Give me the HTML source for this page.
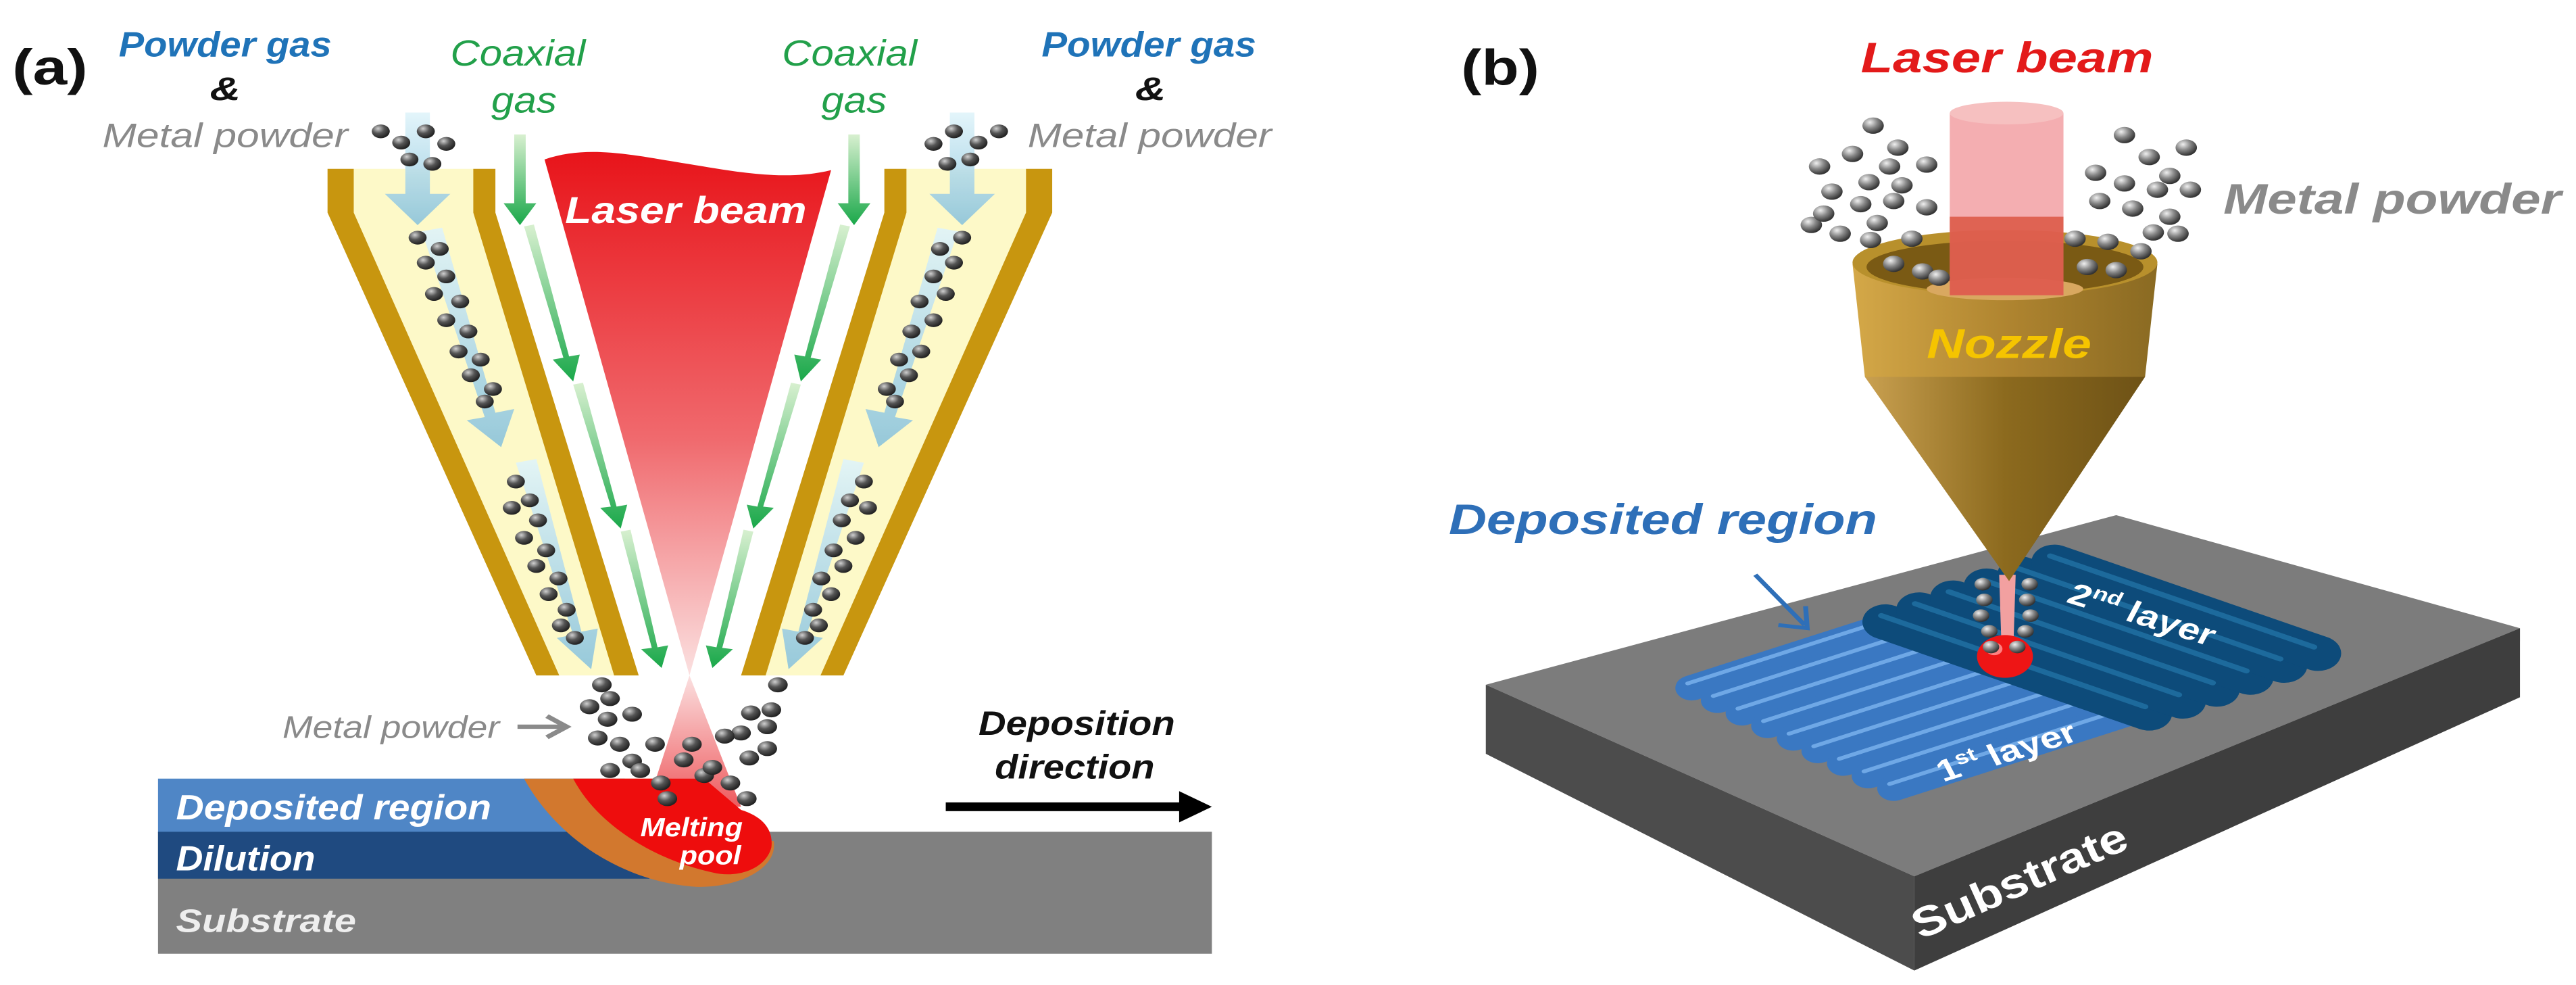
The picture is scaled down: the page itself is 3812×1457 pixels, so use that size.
<!DOCTYPE html>
<html><head><meta charset="utf-8"><style>
html,body{margin:0;padding:0;background:#fff;width:3812px;height:1457px;overflow:hidden}
svg{position:absolute;top:0}
text{font-family:"Liberation Sans",sans-serif;font-weight:bold;font-style:italic}
</style></head><body>
<svg style="left:0" width="1900" height="1457" viewBox="0 0 1568 1575" preserveAspectRatio="none">
<defs>
<radialGradient id="ball" cx="0.35" cy="0.3" r="0.7"><stop offset="0" stop-color="#d0d0d0"/><stop offset="0.5" stop-color="#555"/><stop offset="1" stop-color="#222"/></radialGradient>
<linearGradient id="beam" x1="0" y1="0" x2="0" y2="1"><stop offset="0" stop-color="#e8141a"/><stop offset="0.55" stop-color="#f06a6e"/><stop offset="1" stop-color="#fbe0e0"/></linearGradient>
<linearGradient id="beam2" x1="0" y1="0" x2="0" y2="1"><stop offset="0" stop-color="#fbe0e0"/><stop offset="1" stop-color="#ee5a5e"/></linearGradient>
<linearGradient id="grn" x1="0" y1="0" x2="0" y2="1"><stop offset="0" stop-color="#d8f0d0"/><stop offset="1" stop-color="#1aa84a"/></linearGradient>
<linearGradient id="blu" x1="0" y1="0" x2="0" y2="1"><stop offset="0" stop-color="#e0f4fa"/><stop offset="1" stop-color="#8cc4dc"/></linearGradient>
</defs>
<polygon points="432,270 578,270 578,340 760,1080 683,1080 432,340" fill="#fdf9c8"/>
<polygon points="400,270 432,270 432,340 683,1080 655,1080 400,340" fill="#c8960f"/>
<polygon points="578,270 605,270 605,340 780,1080 750,1080 578,340" fill="#c8960f"/>
<polygon points="1253,270 1107,270 1107,340 925,1080 1002,1080 1253,340" fill="#fdf9c8"/>
<polygon points="1285,270 1253,270 1253,340 1002,1080 1030,1080 1285,340" fill="#c8960f"/>
<polygon points="1107,270 1080,270 1080,340 905,1080 935,1080 1107,340" fill="#c8960f"/>
<g fill="url(#blu)" opacity="0.9">
<polygon points="495,180 525,180 525,310 550,310 510,360 470,310 495,310"/>
<polygon points="515,370 540,364 605,660 628,654 612,715 570,672 592,667"/>
<polygon points="630,740 655,734 710,1010 730,1005 722,1070 680,1020 700,1015"/>
<polygon points="1190,180 1160,180 1160,310 1135,310 1175,360 1215,310 1190,310"/>
<polygon points="1170,370 1145,364 1080,660 1057,654 1073,715 1115,672 1093,667"/>
<polygon points="1055,740 1030,734 975,1010 955,1005 963,1070 1005,1020 985,1015"/>
</g>
<path d="M665,255 C720,230 780,250 840,262 C900,275 960,290 1015,272 L842,1080 Z" fill="url(#beam)"/>
<path d="M842,1080 L905,1290 L790,1290 Z" fill="url(#beam2)"/>
<text x="690" y="357" font-size="60" fill="#fff" textLength="295" lengthAdjust="spacingAndGlyphs">Laser beam</text>
<g fill="url(#grn)">
<polygon points="628,215 642,215 642,325 655,325 635,360 615,325 628,325"/>
<polygon points="640,362 652,359 695,570 708,567 700,610 675,575 688,572"/>
<polygon points="700,615 712,612 753,810 766,807 758,845 733,812 746,810"/>
<polygon points="758,850 770,847 803,1035 816,1032 808,1068 783,1038 796,1036"/>
<polygon points="1050,215 1036,215 1036,325 1023,325 1043,360 1063,325 1050,325"/>
<polygon points="1038,362 1026,359 983,570 970,567 978,610 1003,575 990,572"/>
<polygon points="978,615 966,612 925,810 912,807 920,845 945,812 932,810"/>
<polygon points="920,850 908,847 875,1035 862,1032 870,1068 895,1038 882,1036"/>
</g>
<rect x="193" y="1330" width="1287" height="195" fill="#808080"/>
<rect x="193" y="1245" width="570" height="87" fill="#4f86c6"/>
<rect x="193" y="1330" width="600" height="75" fill="#1f4a80"/>
<path d="M640,1245 L820,1245 C860,1300 900,1340 945,1345 C950,1390 900,1420 850,1418 C760,1410 680,1340 640,1245 Z" fill="#d2782e"/>
<path d="M700,1245 L860,1245 L905,1295 C930,1305 945,1325 942,1355 C935,1390 900,1405 870,1395 C800,1375 730,1320 700,1245 Z" fill="#ee0d0d"/>
<text x="215" y="1310" font-size="56" fill="#fff" textLength="385" lengthAdjust="spacingAndGlyphs">Deposited region</text>
<text x="215" y="1392" font-size="56" fill="#fff" textLength="170" lengthAdjust="spacingAndGlyphs">Dilution</text>
<text x="215" y="1490" font-size="52" fill="#eee" textLength="220" lengthAdjust="spacingAndGlyphs">Substrate</text>
<text x="782" y="1337" font-size="42" fill="#fff" textLength="125" lengthAdjust="spacingAndGlyphs">Melting</text>
<text x="830" y="1382" font-size="42" fill="#fff" textLength="75" lengthAdjust="spacingAndGlyphs">pool</text>
<g fill="url(#ball)">
<circle cx="465" cy="210" r="11"/><circle cx="490" cy="228" r="11"/><circle cx="520" cy="210" r="11"/><circle cx="545" cy="230" r="11"/><circle cx="500" cy="255" r="11"/><circle cx="528" cy="262" r="11"/>
<circle cx="510" cy="380" r="11"/><circle cx="537" cy="398" r="11"/><circle cx="520" cy="420" r="11"/><circle cx="545" cy="442" r="11"/><circle cx="530" cy="470" r="11"/><circle cx="562" cy="482" r="11"/><circle cx="545" cy="512" r="11"/><circle cx="572" cy="530" r="11"/><circle cx="560" cy="562" r="11"/><circle cx="587" cy="575" r="11"/><circle cx="575" cy="600" r="11"/><circle cx="602" cy="622" r="11"/><circle cx="592" cy="642" r="11"/>
<circle cx="630" cy="770" r="11"/><circle cx="647" cy="800" r="11"/><circle cx="625" cy="812" r="11"/><circle cx="657" cy="832" r="11"/><circle cx="640" cy="860" r="11"/><circle cx="667" cy="880" r="11"/><circle cx="655" cy="905" r="11"/><circle cx="682" cy="925" r="11"/><circle cx="670" cy="950" r="11"/><circle cx="692" cy="975" r="11"/><circle cx="685" cy="1000" r="11"/><circle cx="702" cy="1020" r="11"/>
<circle cx="1220" cy="210" r="11"/><circle cx="1195" cy="228" r="11"/><circle cx="1165" cy="210" r="11"/><circle cx="1140" cy="230" r="11"/><circle cx="1185" cy="255" r="11"/><circle cx="1157" cy="262" r="11"/>
<circle cx="1175" cy="380" r="11"/><circle cx="1148" cy="398" r="11"/><circle cx="1165" cy="420" r="11"/><circle cx="1140" cy="442" r="11"/><circle cx="1155" cy="470" r="11"/><circle cx="1123" cy="482" r="11"/><circle cx="1140" cy="512" r="11"/><circle cx="1113" cy="530" r="11"/><circle cx="1125" cy="562" r="11"/><circle cx="1098" cy="575" r="11"/><circle cx="1110" cy="600" r="11"/><circle cx="1083" cy="622" r="11"/><circle cx="1093" cy="642" r="11"/>
<circle cx="1055" cy="770" r="11"/><circle cx="1038" cy="800" r="11"/><circle cx="1060" cy="812" r="11"/><circle cx="1028" cy="832" r="11"/><circle cx="1045" cy="860" r="11"/><circle cx="1018" cy="880" r="11"/><circle cx="1030" cy="905" r="11"/><circle cx="1003" cy="925" r="11"/><circle cx="1015" cy="950" r="11"/><circle cx="993" cy="975" r="11"/><circle cx="1000" cy="1000" r="11"/><circle cx="983" cy="1020" r="11"/>
<circle cx="735" cy="1095" r="12"/><circle cx="745" cy="1117" r="12"/><circle cx="720" cy="1130" r="12"/><circle cx="742" cy="1150" r="12"/><circle cx="772" cy="1142" r="12"/><circle cx="730" cy="1180" r="12"/><circle cx="757" cy="1190" r="12"/><circle cx="772" cy="1217" r="12"/><circle cx="800" cy="1190" r="12"/><circle cx="782" cy="1232" r="12"/><circle cx="745" cy="1232" r="12"/><circle cx="807" cy="1252" r="12"/><circle cx="835" cy="1215" r="12"/><circle cx="860" cy="1240" r="12"/><circle cx="815" cy="1277" r="12"/>
<circle cx="950" cy="1095" r="12"/><circle cx="942" cy="1135" r="12"/><circle cx="917" cy="1140" r="12"/><circle cx="937" cy="1162" r="12"/><circle cx="905" cy="1172" r="12"/><circle cx="937" cy="1197" r="12"/><circle cx="915" cy="1212" r="12"/><circle cx="885" cy="1177" r="12"/><circle cx="870" cy="1227" r="12"/><circle cx="892" cy="1252" r="12"/><circle cx="912" cy="1277" r="12"/><circle cx="845" cy="1190" r="12"/>
</g>
<text x="15" y="135" font-size="80" fill="#111" style="font-style:normal" textLength="92" lengthAdjust="spacingAndGlyphs">(a)</text>
<text x="145" y="90" font-size="56" fill="#1f73b8" textLength="260" lengthAdjust="spacingAndGlyphs">Powder gas</text>
<text x="275" y="160" font-size="52" fill="#111" text-anchor="middle">&amp;</text>
<text x="125" y="235" font-size="54" fill="#8a8a8a" style="font-weight:normal" textLength="300" lengthAdjust="spacingAndGlyphs">Metal powder</text>
<text x="1272" y="90" font-size="56" fill="#1f73b8" textLength="262" lengthAdjust="spacingAndGlyphs">Powder gas</text>
<text x="1405" y="160" font-size="52" fill="#111" text-anchor="middle">&amp;</text>
<text x="1255" y="235" font-size="54" fill="#8a8a8a" style="font-weight:normal" textLength="298" lengthAdjust="spacingAndGlyphs">Metal powder</text>
<text x="550" y="105" font-size="58" fill="#22a04a" style="font-weight:normal" textLength="165" lengthAdjust="spacingAndGlyphs">Coaxial</text>
<text x="600" y="180" font-size="58" fill="#22a04a" style="font-weight:normal" textLength="80" lengthAdjust="spacingAndGlyphs">gas</text>
<text x="955" y="105" font-size="58" fill="#22a04a" style="font-weight:normal" textLength="165" lengthAdjust="spacingAndGlyphs">Coaxial</text>
<text x="1003" y="180" font-size="58" fill="#22a04a" style="font-weight:normal" textLength="80" lengthAdjust="spacingAndGlyphs">gas</text>
<text x="345" y="1180" font-size="50" fill="#8a8a8a" style="font-weight:normal" textLength="265" lengthAdjust="spacingAndGlyphs">Metal powder</text>
<path d="M632,1162 L690,1162 M668,1145 L692,1162 L668,1179" stroke="#8a8a8a" stroke-width="7" fill="none"/>
<text x="1195" y="1175" font-size="54" fill="#111" textLength="240" lengthAdjust="spacingAndGlyphs">Deposition</text>
<text x="1215" y="1245" font-size="54" fill="#111" textLength="195" lengthAdjust="spacingAndGlyphs">direction</text>
<rect x="1155" y="1283" width="290" height="14" fill="#000"/>
<polygon points="1440,1265 1480,1290 1440,1315" fill="#000"/>
</svg>

<svg style="left:1900px" width="1912" height="1457" viewBox="0 0 1568 1568" preserveAspectRatio="none">
<defs>
<radialGradient id="ball2" cx="0.35" cy="0.3" r="0.7"><stop offset="0" stop-color="#f0f0f0"/><stop offset="0.5" stop-color="#888"/><stop offset="1" stop-color="#333"/></radialGradient>
<linearGradient id="gold" x1="0" y1="0" x2="1" y2="0"><stop offset="0" stop-color="#c9a050"/><stop offset="0.5" stop-color="#8c6a1e"/><stop offset="1" stop-color="#6e5216"/></linearGradient>
<linearGradient id="gold2" x1="0" y1="0" x2="1" y2="0"><stop offset="0" stop-color="#d4a848"/><stop offset="0.5" stop-color="#b08530"/><stop offset="1" stop-color="#8a6a22"/></linearGradient>
</defs>
<text x="215" y="135" font-size="80" fill="#111" style="font-style:normal" textLength="95" lengthAdjust="spacingAndGlyphs">(b)</text>
<text x="700" y="115" font-size="68" fill="#e31a1a" textLength="355" lengthAdjust="spacingAndGlyphs">Laser beam</text>
<text x="1140" y="340" font-size="68" fill="#8a8a8a" textLength="410" lengthAdjust="spacingAndGlyphs">Metal powder</text>
<polygon points="245,1090 1010,820 1500,1000 765,1395" fill="#7c7c7c"/>
<polygon points="245,1090 765,1395 765,1545 245,1200" fill="#4c4c4c"/>
<polygon points="765,1395 1500,1000 1500,1110 765,1545" fill="#3e3e3e"/>
<g stroke-linecap="round">
<g stroke="#3a78c2" stroke-width="40">
<line x1="495" y1="1095" x2="795" y2="969"/><line x1="526" y1="1115" x2="826" y2="989"/><line x1="556" y1="1135" x2="856" y2="1009"/><line x1="587" y1="1155" x2="887" y2="1029"/><line x1="618" y1="1175" x2="918" y2="1049"/><line x1="648" y1="1195" x2="948" y2="1069"/><line x1="679" y1="1215" x2="979" y2="1089"/><line x1="709" y1="1235" x2="1009" y2="1109"/><line x1="740" y1="1255" x2="1040" y2="1129"/>
</g>
<g stroke="#6fa8e6" stroke-width="6">
<line x1="490" y1="1088" x2="790" y2="962"/><line x1="521" y1="1108" x2="821" y2="982"/><line x1="551" y1="1128" x2="851" y2="1002"/><line x1="582" y1="1148" x2="882" y2="1022"/><line x1="613" y1="1168" x2="913" y2="1042"/><line x1="643" y1="1188" x2="943" y2="1062"/><line x1="674" y1="1208" x2="974" y2="1082"/><line x1="704" y1="1228" x2="1004" y2="1102"/><line x1="735" y1="1248" x2="1035" y2="1122"/>
</g>
<g stroke="#0d4b7a" stroke-width="56">
<line x1="1050" y1="1135" x2="730" y2="990"/><line x1="1091" y1="1116" x2="771" y2="971"/><line x1="1132" y1="1097" x2="812" y2="952"/><line x1="1173" y1="1078" x2="853" y2="933"/><line x1="1214" y1="1059" x2="894" y2="914"/><line x1="1255" y1="1040" x2="935" y2="895"/>
</g>
<g stroke="#1d6a9c" stroke-width="8">
<line x1="1045" y1="1125" x2="725" y2="980"/><line x1="1086" y1="1106" x2="766" y2="961"/><line x1="1127" y1="1087" x2="807" y2="942"/><line x1="1168" y1="1068" x2="848" y2="923"/><line x1="1209" y1="1049" x2="889" y2="904"/><line x1="1250" y1="1030" x2="930" y2="885"/>
</g>
</g>
<text transform="translate(775,1495) rotate(-30)" font-size="64" fill="#fff">Substrate</text>
<text transform="translate(800,1245) rotate(-22)" font-size="48" fill="#fff" style="font-style:normal">1<tspan font-size="30" dy="-18">st</tspan><tspan dy="18"> layer</tspan></text>
<text transform="translate(948,958) rotate(22)" font-size="48" fill="#fff" style="font-style:normal">2<tspan font-size="30" dy="-18">nd</tspan><tspan dy="18"> layer</tspan></text>
<text x="200" y="850" font-size="68" fill="#2e6fb8" textLength="520" lengthAdjust="spacingAndGlyphs">Deposited region</text>
<path d="M572,915 L632,995 M600,995 L635,1000 L633,965" stroke="#2e6fb8" stroke-width="6" fill="none"/>
<polygon points="868,915 888,915 885,1040 871,1040" fill="#f2a0a0"/>
<circle cx="875" cy="1045" r="34" fill="#ee1515"/>
<circle cx="862" cy="1033" r="10" fill="#ff8080"/>
<polygon points="705,600 1045,600 880,925" fill="url(#gold)"/>
<polygon points="690,420 1060,420 1045,600 705,600" fill="url(#gold2)"/>
<ellipse cx="875" cy="418" rx="185" ry="52" fill="#b8902c"/>
<ellipse cx="875" cy="425" rx="168" ry="42" fill="#7a5a14"/>
<ellipse cx="875" cy="460" rx="95" ry="18" fill="#d9a860"/>
<rect x="808" y="180" width="138" height="290" fill="#f2a0a3" opacity="0.85"/>
<rect x="808" y="345" width="138" height="125" fill="#d9503c" opacity="0.8"/>
<ellipse cx="877" cy="180" rx="69" ry="18" fill="#f6c0c0"/>
<text x="780" y="570" font-size="66" fill="#f5c400" textLength="200" lengthAdjust="spacingAndGlyphs">Nozzle</text>
<g fill="url(#ball2)">
<circle cx="715" cy="200" r="13"/><circle cx="690" cy="245" r="13"/><circle cx="745" cy="235" r="13"/><circle cx="735" cy="265" r="13"/><circle cx="650" cy="265" r="13"/><circle cx="780" cy="262" r="13"/><circle cx="710" cy="290" r="13"/><circle cx="750" cy="295" r="13"/><circle cx="665" cy="305" r="13"/><circle cx="700" cy="325" r="13"/><circle cx="740" cy="320" r="13"/><circle cx="780" cy="330" r="13"/><circle cx="640" cy="358" r="13"/><circle cx="675" cy="372" r="13"/><circle cx="720" cy="355" r="13"/><circle cx="712" cy="382" r="13"/><circle cx="762" cy="380" r="13"/><circle cx="740" cy="420" r="13"/><circle cx="775" cy="432" r="13"/><circle cx="795" cy="442" r="13"/><circle cx="655" cy="340" r="13"/>
<circle cx="1020" cy="215" r="13"/><circle cx="1050" cy="250" r="13"/><circle cx="1095" cy="235" r="13"/><circle cx="985" cy="275" r="13"/><circle cx="1020" cy="292" r="13"/><circle cx="1075" cy="280" r="13"/><circle cx="1100" cy="302" r="13"/><circle cx="1060" cy="302" r="13"/><circle cx="990" cy="320" r="13"/><circle cx="1030" cy="332" r="13"/><circle cx="1075" cy="345" r="13"/><circle cx="960" cy="380" r="13"/><circle cx="1000" cy="385" r="13"/><circle cx="1040" cy="400" r="13"/><circle cx="975" cy="425" r="13"/><circle cx="1010" cy="430" r="13"/><circle cx="1055" cy="370" r="13"/><circle cx="1085" cy="372" r="13"/>
<circle cx="848" cy="930" r="10"/><circle cx="905" cy="930" r="10"/><circle cx="850" cy="955" r="10"/><circle cx="902" cy="955" r="10"/><circle cx="846" cy="980" r="10"/><circle cx="906" cy="980" r="10"/><circle cx="856" cy="1005" r="10"/><circle cx="900" cy="1005" r="10"/><circle cx="890" cy="1030" r="10"/><circle cx="858" cy="1030" r="10"/>
</g>
</svg>
</body></html>
